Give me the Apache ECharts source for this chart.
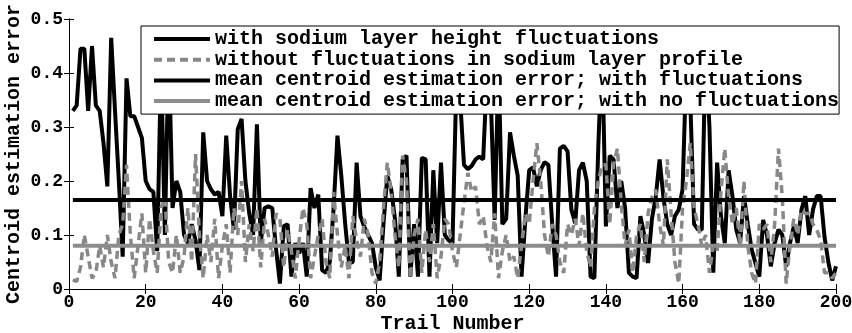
<!DOCTYPE html>
<html>
<head>
<meta charset="utf-8">
<script src="https://cdn.jsdelivr.net/npm/echarts@6/dist/echarts.min.js"></script>
<style>
html,body{margin:0;padding:0;background:#fff;}
#chart{width:852px;height:333px;}
</style>
</head>
<body>
<div id="chart"></div>
<script>
// Trail numbers 1..200
const trails = [];
for (let i = 1; i <= 200; i++) trails.push(i);

// With sodium layer height fluctuations (black solid)
const withFluct = [
0.33,0.34,0.445,0.445,0.33,0.45,0.34,0.33,0.27,0.19,
0.465,0.33,0.2,0.06,0.39,0.32,0.32,0.3,0.28,0.2,
0.185,0.18,0.07,0.42,0.1,0.45,0.15,0.2,0.18,0.1,
0.085,0.12,0.09,0.035,0.29,0.2,0.185,0.175,0.18,0.135,
0.284,0.172,0.11,0.296,0.315,0.2,0.14,0.1,0.305,0.085,
0.15,0.153,0.15,0.073,0.01,0.116,0.12,0.023,0.085,0.066,
0.085,0.023,0.187,0.15,0.175,0.035,0.03,0.05,0.15,0.284,
0.21,0.122,0.048,0.05,0.234,0.135,0.115,0.1,0.085,0.04,
0.016,0.12,0.21,0.185,0.13,0.023,0.24,0.247,0.023,0.12,
0.023,0.243,0.24,0.023,0.22,0.085,0.234,0.1,0.09,0.085,
0.38,0.35,0.23,0.222,0.228,0.24,0.245,0.24,0.4,0.35,
0.128,0.42,0.12,0.13,0.29,0.247,0.21,0.023,0.13,0.22,
0.225,0.19,0.22,0.235,0.23,0.12,0.023,0.26,0.265,0.255,
0.147,0.122,0.22,0.234,0.2,0.023,0.02,0.26,0.45,0.116,
0.247,0.24,0.15,0.2,0.15,0.03,0.023,0.02,0.135,0.1,
0.048,0.13,0.17,0.24,0.17,0.12,0.1,0.135,0.147,0.185,
0.42,0.35,0.12,0.11,0.11,0.45,0.3,0.03,0.234,0.135,
0.085,0.22,0.172,0.11,0.085,0.172,0.12,0.073,0.048,0.023,
0.128,0.1,0.042,0.085,0.11,0.1,0.042,0.085,0.116,0.085,
0.147,0.172,0.1,0.147,0.172,0.172,0.097,0.05,0.016,0.042
];

// Without fluctuations in sodium layer profile (gray dashed)
const withoutFluct = [
0.017,0.014,0.04,0.1,0.06,0.02,0.03,0.08,0.04,0.1,
0.05,0.02,0.1,0.12,0.23,0.1,0.02,0.08,0.14,0.03,
0.13,0.07,0.03,0.15,0.17,0.05,0.03,0.1,0.03,0.06,
0.15,0.05,0.25,0.1,0.02,0.1,0.05,0.13,0.02,0.08,
0.12,0.03,0.15,0.1,0.2,0.05,0.12,0.07,0.15,0.04,
0.13,0.1,0.06,0.14,0.13,0.04,0.11,0.07,0.02,0.09,
0.15,0.12,0.02,0.06,0.1,0.13,0.05,0.02,0.18,0.1,
0.04,0.08,0.02,0.135,0.09,0.06,0.13,0.1,0.03,0.01,
0.05,0.15,0.234,0.18,0.1,0.04,0.247,0.2,0.02,0.1,
0.13,0.03,0.11,0.05,0.12,0.02,0.06,0.13,0.12,0.07,
0.04,0.1,0.16,0.215,0.18,0.19,0.12,0.135,0.08,0.05,
0.14,0.02,0.07,0.1,0.05,0.06,0.02,0.08,0.14,0.12,
0.2,0.27,0.2,0.1,0.06,0.12,0.1,0.05,0.03,0.12,
0.1,0.13,0.08,0.14,0.07,0.04,0.15,0.2,0.23,0.23,
0.12,0.23,0.26,0.16,0.08,0.11,0.03,0.1,0.12,0.05,
0.14,0.17,0.184,0.12,0.08,0.24,0.14,0.05,0.01,0.15,
0.2,0.27,0.15,0.12,0.08,0.1,0.03,0.08,0.07,0.18,
0.26,0.17,0.12,0.15,0.08,0.2,0.08,0.03,0.01,0.12,
0.11,0.12,0.05,0.12,0.26,0.17,0.01,0.08,0.13,0.1,
0.147,0.14,0.14,0.12,0.11,0.09,0.03,0.03,0.02,0.03
];

// Mean centroid estimation errors
const meanWith = 0.165;
const meanWithout = 0.08;
const meanSpan = [1, 200];

const xTicks = { min: 0, max: 200, interval: 20 };
const yTicks = { min: 0, max: 0.5, interval: 0.1 };

const legendNames = [
  'with sodium layer height fluctuations',
  'without fluctuations in sodium layer profile',
  'mean centroid estimation error; with fluctuations',
  'mean centroid estimation error; with no fluctuations'
];

const FONT = '"Liberation Mono", "DejaVu Sans Mono", monospace';

const chart = echarts.init(document.getElementById('chart'), null, { renderer: 'canvas' });

const pair = (xs, ys) => xs.map((x, i) => [x, ys[i]]);

chart.setOption({
  animation: false,
  backgroundColor: '#fff',
  grid: { left: 69, right: 16, top: 19, bottom: 44, show: false, containLabel: false, outerBoundsMode: 'none' },
  legend: {
    show: true,
    orient: 'vertical',
    left: 141,
    top: 26,
    padding: [3, 0, 3, 11],
    itemGap: 0.7,
    itemWidth: 56,
    itemHeight: 12,
    backgroundColor: '#fff',
    borderColor: '#000',
    borderWidth: 1,
    borderRadius: 0,
    z: 10,
    itemStyle: { opacity: 0 },
    lineStyle: { width: 4 },
    textStyle: { fontFamily: FONT, fontWeight: 'bold', fontSize: 20, lineHeight: 20, color: '#000' },
    data: legendNames
  },
  xAxis: [
    {
      type: 'value', position: 'bottom',
      min: xTicks.min, max: xTicks.max, interval: xTicks.interval,
      name: 'Trail Number', nameLocation: 'middle', nameGap: 25, nameMoveOverlap: false,
      nameTextStyle: { fontFamily: FONT, fontWeight: 'bold', fontSize: 20, color: '#000' },
      axisLine: { lineStyle: { color: '#000', width: 1 } },
      axisTick: { inside: true, length: 5, lineStyle: { color: '#000' } },
      axisLabel: { fontFamily: FONT, fontWeight: 'bold', fontSize: 18, color: '#000', margin: 4 },
      splitLine: { show: false }
    },
    {
      type: 'value', position: 'top',
      min: xTicks.min, max: xTicks.max, interval: xTicks.interval,
      axisLine: { lineStyle: { color: '#000', width: 1 } },
      axisTick: { inside: true, length: 5, lineStyle: { color: '#000' } },
      axisLabel: { show: false },
      splitLine: { show: false }
    }
  ],
  yAxis: [
    {
      type: 'value', position: 'left',
      min: yTicks.min, max: yTicks.max, interval: yTicks.interval,
      name: 'Centroid estimation error', nameLocation: 'middle', nameGap: 45, nameMoveOverlap: false,
      nameTextStyle: { fontFamily: FONT, fontWeight: 'bold', fontSize: 20, color: '#000' },
      axisLine: { lineStyle: { color: '#000', width: 1 } },
      axisTick: { inside: true, length: 5, lineStyle: { color: '#000' } },
      axisLabel: { fontFamily: FONT, fontWeight: 'bold', fontSize: 18, color: '#000', margin: 6 },
      splitLine: { show: false }
    },
    {
      type: 'value', position: 'right',
      min: yTicks.min, max: yTicks.max, interval: yTicks.interval,
      axisLine: { lineStyle: { color: '#000', width: 1 } },
      axisTick: { inside: true, length: 5, lineStyle: { color: '#000' } },
      axisLabel: { show: false },
      splitLine: { show: false }
    }
  ],
  series: [
    {
      name: legendNames[0], type: 'line', showSymbol: false, symbol: 'none',
      data: pair(trails, withFluct),
      lineStyle: { color: '#000', width: 4 }, itemStyle: { color: '#000' }
    },
    {
      name: legendNames[1], type: 'line', showSymbol: false, symbol: 'none',
      data: pair(trails, withoutFluct),
      lineStyle: { color: '#888', width: 3.5, type: [8, 5] }, itemStyle: { color: '#888' }
    },
    {
      name: legendNames[2], type: 'line', showSymbol: false, symbol: 'none',
      data: meanSpan.map(x => [x, meanWith]),
      lineStyle: { color: '#000', width: 4 }, itemStyle: { color: '#000' }
    },
    {
      name: legendNames[3], type: 'line', showSymbol: false, symbol: 'none',
      data: meanSpan.map(x => [x, meanWithout]),
      lineStyle: { color: '#8c8c8c', width: 4 }, itemStyle: { color: '#8c8c8c' }
    }
  ]
});
</script>
</body>
</html>
